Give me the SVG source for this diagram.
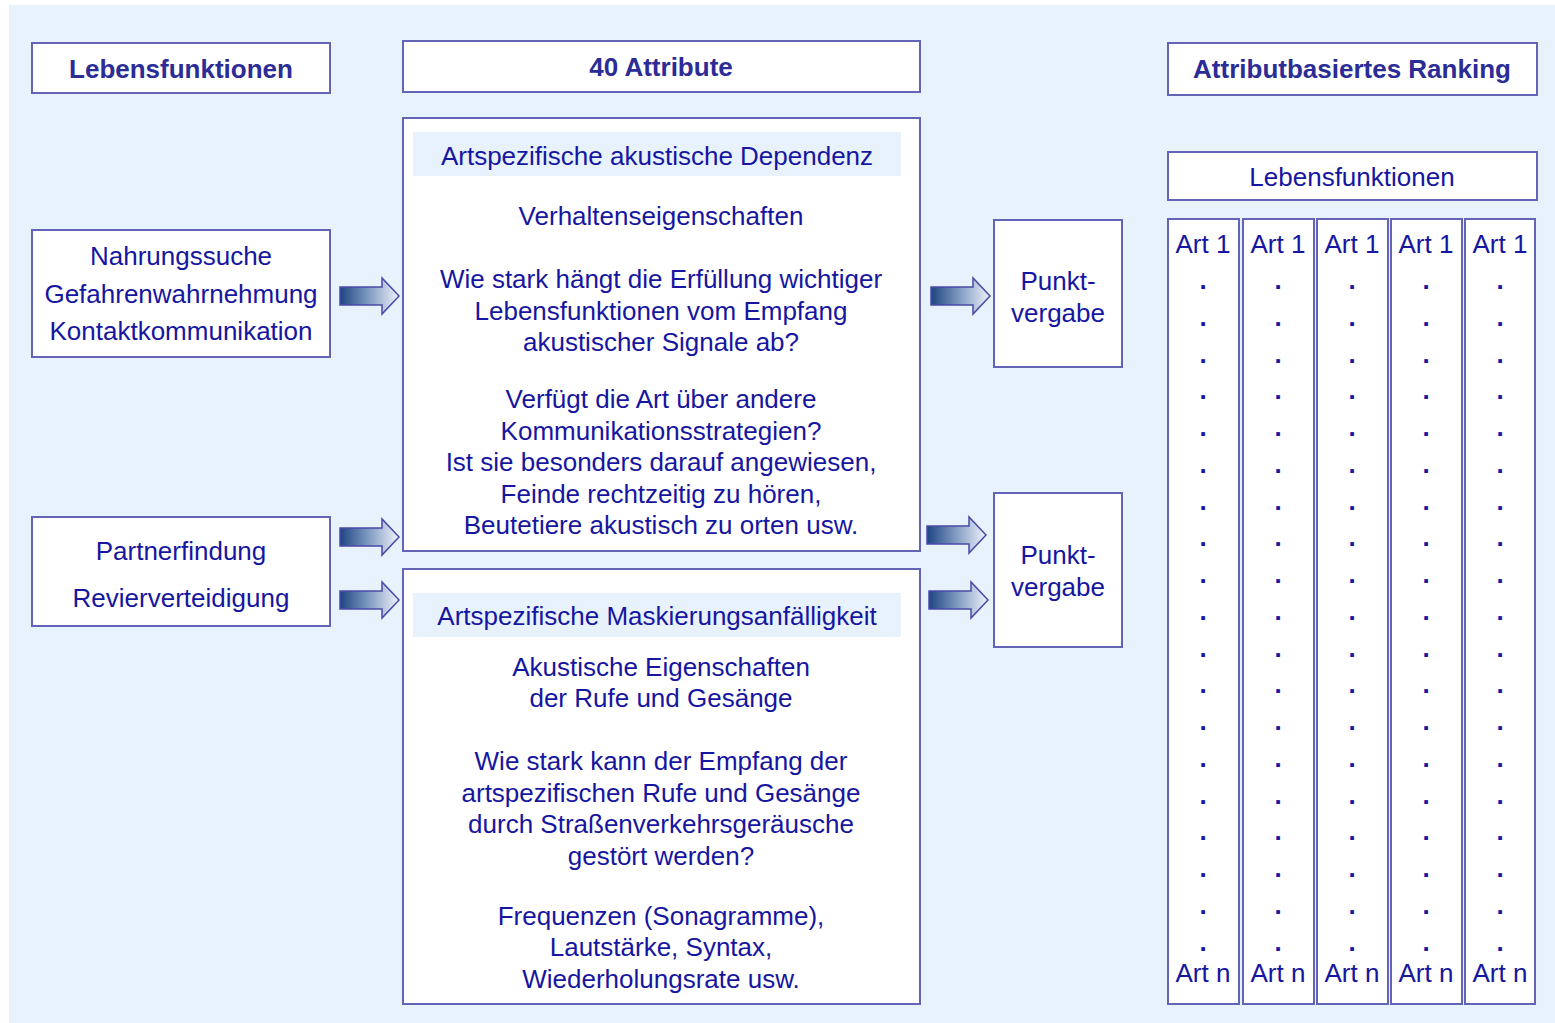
<svg xmlns="http://www.w3.org/2000/svg" xmlns:xlink="http://www.w3.org/1999/xlink" width="1555" height="1023" viewBox="0 0 1555 1023">
<defs>
<linearGradient id="ag" x1="0" y1="0" x2="1" y2="0">
<stop offset="0" stop-color="#1e4584"/>
<stop offset="0.55" stop-color="#8ea6c8"/>
<stop offset="1" stop-color="#eef4fb"/>
</linearGradient>
<path id="arr" d="M0,-9 L42,-9 L42,-18 L59,0 L42,18 L42,9 L0,9 Z" fill="url(#ag)" stroke="#4a4aa8" stroke-width="1.5" stroke-linejoin="miter"/>
</defs>
<style>
.box{fill:#ffffff;stroke:#6464b6;stroke-width:2}
.hl{fill:#e8f2fd}
.t{font-family:"Liberation Sans",Arial,sans-serif;font-size:26px;fill:#1616a0;text-anchor:middle}
.h{font-family:"Liberation Sans",Arial,sans-serif;font-size:26px;font-weight:bold;fill:#2c2c96;text-anchor:middle}
.d{font-family:"Liberation Sans",Arial,sans-serif;font-size:26px;fill:#1616a0;text-anchor:middle}
.dots text{font-weight:bold}
</style>
<rect x="0" y="0" width="1555" height="1023" fill="#ffffff"/>
<rect x="9" y="5" width="1546" height="1018" fill="#e8f2fd"/>

<g id="hdr-lebensfunktionen">
<rect class="box" x="32" y="43" width="298" height="50"/>
<text class="h" x="181" y="78">Lebensfunktionen</text>
</g>
<g id="hdr-attribute">
<rect class="box" x="403" y="41" width="517" height="51"/>
<text class="h" x="661" y="76">40 Attribute</text>
</g>
<g id="hdr-ranking">
<rect class="box" x="1168" y="43" width="369" height="52"/>
<text class="h" x="1352" y="78">Attributbasiertes Ranking</text>
</g>

<g id="lf1">
<rect class="box" x="32" y="230" width="298" height="127"/>
<text class="t" x="181" y="265">Nahrungssuche</text>
<text class="t" x="181" y="303">Gefahrenwahrnehmung</text>
<text class="t" x="181" y="340">Kontaktkommunikation</text>
</g>
<g id="lf2">
<rect class="box" x="32" y="517" width="298" height="109"/>
<text class="t" x="181" y="560">Partnerfindung</text>
<text class="t" x="181" y="607">Revierverteidigung</text>
</g>

<g id="attr1">
<rect class="box" x="403" y="118" width="517" height="433"/>
<rect class="hl" x="413" y="132" width="488" height="44"/>
<text class="t" x="657" y="165">Artspezifische akustische Dependenz</text>
<text class="t" x="661" y="225">Verhaltenseigenschaften</text>
<text class="t" x="661" y="288">Wie stark hängt die Erfüllung wichtiger</text>
<text class="t" x="661" y="320">Lebensfunktionen vom Empfang</text>
<text class="t" x="661" y="351">akustischer Signale ab?</text>
<text class="t" x="661" y="408">Verfügt die Art über andere</text>
<text class="t" x="661" y="440">Kommunikationsstrategien?</text>
<text class="t" x="661" y="471">Ist sie besonders darauf angewiesen,</text>
<text class="t" x="661" y="503">Feinde rechtzeitig zu hören,</text>
<text class="t" x="661" y="534">Beutetiere akustisch zu orten usw.</text>
</g>
<g id="attr2">
<rect class="box" x="403" y="569" width="517" height="435"/>
<rect class="hl" x="413" y="593" width="488" height="44"/>
<text class="t" x="657" y="625">Artspezifische Maskierungsanfälligkeit</text>
<text class="t" x="661" y="676">Akustische Eigenschaften</text>
<text class="t" x="661" y="707">der Rufe und Gesänge</text>
<text class="t" x="661" y="770">Wie stark kann der Empfang der</text>
<text class="t" x="661" y="802">artspezifischen Rufe und Gesänge</text>
<text class="t" x="661" y="833">durch Straßenverkehrsgeräusche</text>
<text class="t" x="661" y="865">gestört werden?</text>
<text class="t" x="661" y="925">Frequenzen (Sonagramme),</text>
<text class="t" x="661" y="956">Lautstärke, Syntax,</text>
<text class="t" x="661" y="988">Wiederholungsrate usw.</text>
</g>

<g id="pv1">
<rect class="box" x="994" y="220" width="128" height="147"/>
<text class="t" x="1058" y="290">Punkt-</text>
<text class="t" x="1058" y="322">vergabe</text>
</g>
<g id="pv2">
<rect class="box" x="994" y="493" width="128" height="154"/>
<text class="t" x="1058" y="564">Punkt-</text>
<text class="t" x="1058" y="596">vergabe</text>
</g>

<g id="rank-lebensfunktionen">
<rect class="box" x="1168" y="152" width="369" height="48"/>
<text class="t" x="1352" y="186">Lebensfunktionen</text>
</g>

<g id="col1">
<rect class="box" x="1168" y="219" width="71" height="785"/>
<text class="t" x="1203" y="253">Art 1</text>
<text class="d" x="1203" y="982">Art n</text>
</g>
<g id="col2">
<rect class="box" x="1243" y="219" width="71" height="785"/>
<text class="t" x="1278" y="253">Art 1</text>
<text class="d" x="1278" y="982">Art n</text>
</g>
<g id="col3">
<rect class="box" x="1317" y="219" width="71" height="785"/>
<text class="t" x="1352" y="253">Art 1</text>
<text class="d" x="1352" y="982">Art n</text>
</g>
<g id="col4">
<rect class="box" x="1391" y="219" width="71" height="785"/>
<text class="t" x="1426" y="253">Art 1</text>
<text class="d" x="1426" y="982">Art n</text>
</g>
<g id="col5">
<rect class="box" x="1465" y="219" width="70" height="785"/>
<text class="t" x="1500" y="253">Art 1</text>
<text class="d" x="1500" y="982">Art n</text>
</g>

<g id="dots" class="dots">
<text class="d" x="1203" y="0"><tspan x="1203" y="289">.</tspan><tspan x="1203" y="326">.</tspan><tspan x="1203" y="363">.</tspan><tspan x="1203" y="399">.</tspan><tspan x="1203" y="436">.</tspan><tspan x="1203" y="473">.</tspan><tspan x="1203" y="510">.</tspan><tspan x="1203" y="546">.</tspan><tspan x="1203" y="583">.</tspan><tspan x="1203" y="620">.</tspan><tspan x="1203" y="657">.</tspan><tspan x="1203" y="693">.</tspan><tspan x="1203" y="730">.</tspan><tspan x="1203" y="767">.</tspan><tspan x="1203" y="804">.</tspan><tspan x="1203" y="840">.</tspan><tspan x="1203" y="877">.</tspan><tspan x="1203" y="914">.</tspan><tspan x="1203" y="951">.</tspan></text>
<text class="d" x="1278" y="0"><tspan x="1278" y="289">.</tspan><tspan x="1278" y="326">.</tspan><tspan x="1278" y="363">.</tspan><tspan x="1278" y="399">.</tspan><tspan x="1278" y="436">.</tspan><tspan x="1278" y="473">.</tspan><tspan x="1278" y="510">.</tspan><tspan x="1278" y="546">.</tspan><tspan x="1278" y="583">.</tspan><tspan x="1278" y="620">.</tspan><tspan x="1278" y="657">.</tspan><tspan x="1278" y="693">.</tspan><tspan x="1278" y="730">.</tspan><tspan x="1278" y="767">.</tspan><tspan x="1278" y="804">.</tspan><tspan x="1278" y="840">.</tspan><tspan x="1278" y="877">.</tspan><tspan x="1278" y="914">.</tspan><tspan x="1278" y="951">.</tspan></text>
<text class="d" x="1352" y="0"><tspan x="1352" y="289">.</tspan><tspan x="1352" y="326">.</tspan><tspan x="1352" y="363">.</tspan><tspan x="1352" y="399">.</tspan><tspan x="1352" y="436">.</tspan><tspan x="1352" y="473">.</tspan><tspan x="1352" y="510">.</tspan><tspan x="1352" y="546">.</tspan><tspan x="1352" y="583">.</tspan><tspan x="1352" y="620">.</tspan><tspan x="1352" y="657">.</tspan><tspan x="1352" y="693">.</tspan><tspan x="1352" y="730">.</tspan><tspan x="1352" y="767">.</tspan><tspan x="1352" y="804">.</tspan><tspan x="1352" y="840">.</tspan><tspan x="1352" y="877">.</tspan><tspan x="1352" y="914">.</tspan><tspan x="1352" y="951">.</tspan></text>
<text class="d" x="1426" y="0"><tspan x="1426" y="289">.</tspan><tspan x="1426" y="326">.</tspan><tspan x="1426" y="363">.</tspan><tspan x="1426" y="399">.</tspan><tspan x="1426" y="436">.</tspan><tspan x="1426" y="473">.</tspan><tspan x="1426" y="510">.</tspan><tspan x="1426" y="546">.</tspan><tspan x="1426" y="583">.</tspan><tspan x="1426" y="620">.</tspan><tspan x="1426" y="657">.</tspan><tspan x="1426" y="693">.</tspan><tspan x="1426" y="730">.</tspan><tspan x="1426" y="767">.</tspan><tspan x="1426" y="804">.</tspan><tspan x="1426" y="840">.</tspan><tspan x="1426" y="877">.</tspan><tspan x="1426" y="914">.</tspan><tspan x="1426" y="951">.</tspan></text>
<text class="d" x="1500" y="0"><tspan x="1500" y="289">.</tspan><tspan x="1500" y="326">.</tspan><tspan x="1500" y="363">.</tspan><tspan x="1500" y="399">.</tspan><tspan x="1500" y="436">.</tspan><tspan x="1500" y="473">.</tspan><tspan x="1500" y="510">.</tspan><tspan x="1500" y="546">.</tspan><tspan x="1500" y="583">.</tspan><tspan x="1500" y="620">.</tspan><tspan x="1500" y="657">.</tspan><tspan x="1500" y="693">.</tspan><tspan x="1500" y="730">.</tspan><tspan x="1500" y="767">.</tspan><tspan x="1500" y="804">.</tspan><tspan x="1500" y="840">.</tspan><tspan x="1500" y="877">.</tspan><tspan x="1500" y="914">.</tspan><tspan x="1500" y="951">.</tspan></text>
</g>

<g id="connectors">
<use xlink:href="#arr" href="#arr" transform="translate(340,296)"/>
<use xlink:href="#arr" href="#arr" transform="translate(931,296)"/>
<use xlink:href="#arr" href="#arr" transform="translate(340,537)"/>
<use xlink:href="#arr" href="#arr" transform="translate(340,600)"/>
<use xlink:href="#arr" href="#arr" transform="translate(927,535)"/>
<use xlink:href="#arr" href="#arr" transform="translate(929,600)"/>
</g>
</svg>
